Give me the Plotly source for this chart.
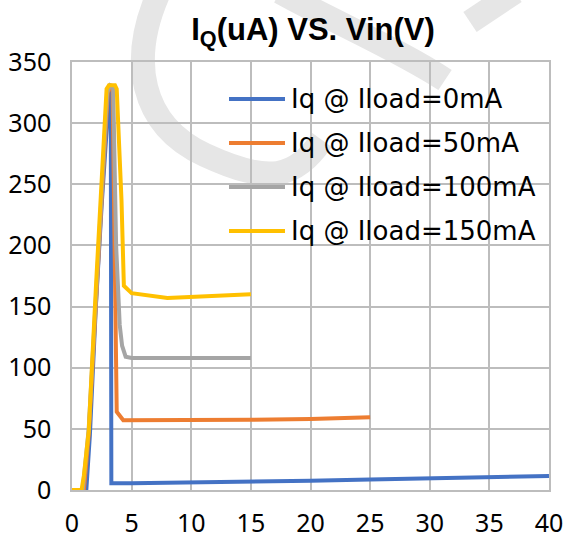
import plotly.graph_objects as go

# Quiescent current vs input voltage, one trace per load current
series_names = ["Iq @ Iload=0mA", "Iq @ Iload=50mA", "Iq @ Iload=100mA", "Iq @ Iload=150mA"]
series_colors = ["#4472C4", "#ED7D31", "#A5A5A5", "#FFC000"]

vin_0ma = [0, 1.2, 1.5, 2.0, 2.5, 3.0, 3.15, 3.25, 3.3, 5, 8, 10, 15, 20, 25, 30, 35, 40]
iq_0ma = [0, 0, 45, 150, 235, 318, 330, 330, 5.5, 5.5, 5.8, 6, 7, 7.5, 8.5, 9.5, 10.5, 11.5]

vin_50ma = [0, 1.0, 1.4, 2.0, 2.5, 3.0, 3.2, 3.4, 3.75, 4.3, 5, 10, 15, 20, 25]
iq_50ma = [0, 0, 45, 160, 240, 325, 330, 330, 64, 57, 57, 57, 57.5, 58, 59.5]

vin_100ma = [0, 0.9, 1.4, 2.0, 2.5, 2.95, 3.2, 3.45, 3.7, 4.0, 4.2, 4.5, 5, 10, 15]
iq_100ma = [0, 0, 50, 165, 245, 325, 331, 330, 200, 135, 118, 109, 108, 108, 108]

vin_150ma = [0, 0.8, 1.0, 1.4, 2.0, 2.4, 2.9, 3.1, 3.6, 3.75, 4.15, 4.35, 5, 8, 15]
iq_150ma = [0, 0, 12, 48, 165, 240, 328, 331, 331, 328, 237, 167, 161, 157, 160]

vin_sets = [vin_0ma, vin_50ma, vin_100ma, vin_150ma]
iq_sets = [iq_0ma, iq_50ma, iq_100ma, iq_150ma]

x_ticks = [0, 5, 10, 15, 20, 25, 30, 35, 40]
y_ticks = [0, 50, 100, 150, 200, 250, 300, 350]

TICK_FONT = dict(family="Noto Sans, Open Sans, sans-serif", size=25, color="#000000")
LEGEND_FONT = dict(family="DejaVu Sans, sans-serif", size=26, color="#000000")
GRID = "#BDBDBD"

plot_l, plot_r, plot_t, plot_b = 72, 549, 62, 490
pw, ph = plot_r - plot_l, plot_b - plot_t


def px_to_paper(px, py):
    return (px - plot_l) / pw, (plot_b - py) / ph


def svg_path(commands):
    parts = []
    for cmd, pts in commands:
        coords = " ".join("%.4f,%.4f" % px_to_paper(*p) for p in pts)
        parts.append(cmd + coords)
    return " ".join(parts)


fig = go.Figure()
for vin, iq, name, color in zip(vin_sets, iq_sets, series_names, series_colors):
    fig.add_trace(go.Scatter(
        x=vin, y=iq, mode="lines", name=name,
        line=dict(color=color, width=4),
        showlegend=False,
    ))

shapes = []

# Faint background logo strokes
logo_strokes = [
    [("M", [(160, -10)]), ("C", [(128, 60), (140, 125), (205, 155)]),
     ("S", [(295, 178), (322, 140)])],
    [("M", [(280, -8)]), ("C", [(330, 20), (400, 50), (445, 80)])],
    [("M", [(470, 22)]), ("L", [(515, -8)])],
]
for stroke in logo_strokes:
    shapes.append(dict(
        type="path", xref="paper", yref="paper", layer="below",
        path=svg_path(stroke),
        line=dict(color="#E6E6E6", width=24),
    ))

# Legend drawn as line samples plus labels, stacked in the upper right
legend_rows_px = [99, 143, 187, 231]
annotations = []
for row_px, name, color in zip(legend_rows_px, series_names, series_colors):
    yp = (plot_b - row_px) / ph
    shapes.append(dict(
        type="line", xref="paper", yref="paper",
        x0=(229 - plot_l) / pw, x1=(285 - plot_l) / pw, y0=yp, y1=yp,
        line=dict(color=color, width=4),
    ))
    annotations.append(dict(
        text=name, xref="paper", yref="paper",
        x=(289 - plot_l) / pw, y=yp, xanchor="left", yanchor="middle",
        showarrow=False, font=LEGEND_FONT,
    ))

fig.update_layout(
    template="none",
    width=566, height=538,
    margin=dict(l=plot_l, r=566 - plot_r, t=plot_t, b=538 - plot_b, autoexpand=False),
    paper_bgcolor="white", plot_bgcolor="rgba(0,0,0,0)",
    title=dict(
        text="<b>I<sub>Q</sub>(uA) VS. Vin(V)</b>",
        x=313 / 566, xanchor="center", y=1 - 29 / 538, yanchor="middle",
        font=dict(family="Liberation Sans, Arial, sans-serif", size=31, color="#000000"),
    ),
    xaxis=dict(
        range=[0, 40], tickvals=x_ticks, ticktext=[str(v) for v in x_ticks],
        showgrid=True, gridcolor=GRID, gridwidth=1.5,
        showline=True, linecolor=GRID, linewidth=1.5, mirror=True,
        zeroline=False, ticks="", tickfont=TICK_FONT, ticklabelstandoff=10,
        automargin=False,
    ),
    yaxis=dict(
        range=[0, 350], tickvals=y_ticks, ticktext=[str(v) for v in y_ticks],
        showgrid=True, gridcolor=GRID, gridwidth=1.5,
        showline=True, linecolor=GRID, linewidth=1.5, mirror=True,
        zeroline=False, ticks="", tickfont=TICK_FONT, ticklabelstandoff=14,
        automargin=False,
    ),
    shapes=shapes,
    annotations=annotations,
)

fig.write_html("out.html")
